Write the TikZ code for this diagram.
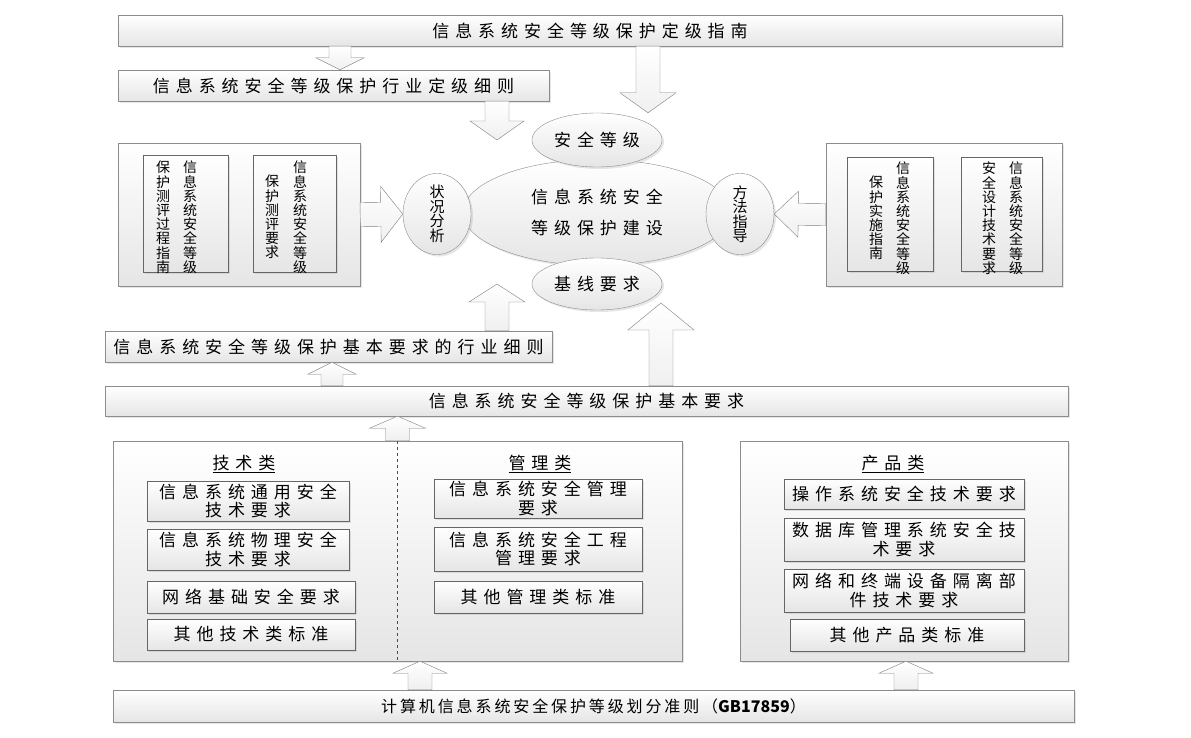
\documentclass[tikz,border=0pt]{standalone}
\usepackage{fontspec}
\setmainfont{Noto Sans CJK SC}[LetterSpace=35]
\newfontfamily\vfont{Noto Sans CJK SC}
\newfontfamily\bfont{Noto Sans CJK SC}[LetterSpace=18]
\usetikzlibrary{calc,shapes.geometric,shadows}
\XeTeXlinebreaklocale "zh"
\XeTeXlinebreakskip=8pt plus 0pt

% block arrow: from, tip, shaft half width, head half width, head length
\newcommand{\fatarrow}[5]{%
  \coordinate (fa-base) at ($(#2)!#5!(#1)$);
  \path[arrowbody] ($(#1)!#3!90:(#2)$) -- ($(fa-base)!#3!-90:(#1)$)
    -- ($(fa-base)!#4!-90:(#1)$) -- (#2) -- ($(fa-base)!#4!90:(#1)$)
    -- ($(fa-base)!#3!90:(#1)$) -- ($(#1)!#3!-90:(#2)$) -- cycle;
}

\begin{document}
\begin{tikzpicture}[x=1pt,y=-1pt,
  box/.style={draw=black!45, top color=white, bottom color=black!10,
    drop shadow={shadow xshift=2pt,shadow yshift=-2pt,opacity=.2},
    inner sep=0pt, align=center, font=\fontsize{17}{18.5}\selectfont},
  item/.style={box, draw=black!60},
  oval/.style={box, ellipse},
  vcol/.style={anchor=north, text width=16pt, align=center, inner sep=0pt,
    font=\vfont\fontsize{14}{14.2}\selectfont},
  head/.style={font=\fontsize{17}{18.5}\selectfont},
  arrowbody/.style={draw=black!50, top color=white, bottom color=black!6},
]
\useasboundingbox (0,0) rectangle (1191,738);

% top: grading guides
\node[box, minimum width=944, minimum height=31] (guide) at (590,30.5) {信息系统安全等级保护定级指南};
\node[box, minimum width=431, minimum height=31] (sector) at (333.5,85.5) {信息系统安全等级保护行业定级细则};

% left: assessment
\node[box, minimum width=242, minimum height=143] (assess) at (239,214.5) {};
\node[item, minimum width=85, minimum height=117] (assessA) at (185.5,213.5) {};
\node[item, minimum width=83, minimum height=117] (assessB) at (294.5,213.5) {};
\node[vcol] (assessA1) at (190,161) {信息系统安全等级};
\node[vcol] (assessA2) at (163,161) {保护测评过程指南};
\node[vcol] (assessB1) at (300,161) {信息系统安全等级};
\node[vcol] (assessB2) at (272,175) {保护测评要求};

% right: implementation
\node[box, minimum width=236, minimum height=143] (implement) at (944,214.5) {};
\node[item, minimum width=86, minimum height=114] (implementA) at (890,214) {};
\node[item, minimum width=81, minimum height=114] (implementB) at (1001.5,214) {};
\node[vcol] (implementA1) at (903,162) {信息系统安全等级};
\node[vcol] (implementA2) at (876,176) {保护实施指南};
\node[vcol] (implementB1) at (1016,162) {信息系统安全等级};
\node[vcol] (implementB2) at (989,162) {安全设计技术要求};

% centre
\node[oval, minimum width=268, minimum height=106, font=\fontsize{17}{31}\selectfont] (core) at (597,212.5) {信息系统安全\\等级保护建设};
\node[oval, minimum width=130, minimum height=54] (safety) at (597,140) {安全等级};
\node[oval, minimum width=130, minimum height=52] (baseline) at (597,284) {基线要求};
\node[oval, minimum width=68, minimum height=76, text width=16pt, font=\vfont\fontsize{15}{14.5}\selectfont] (status) at (437,214) {状况分析};
\node[oval, minimum width=68, minimum height=76, text width=16pt, font=\vfont\fontsize{15}{14.5}\selectfont] (method) at (740,214) {方法指导};

% basic requirements
\node[box, minimum width=447, minimum height=31] (sectorbasic) at (328.5,346.5) {信息系统安全等级保护基本要求的行业细则};
\node[box, minimum width=963, minimum height=30] (basic) at (586.5,401) {信息系统安全等级保护基本要求};

% technical / management group
\node[box, minimum width=569, minimum height=220] (group) at (397.5,551) {};
\draw[dashed, black!70] (group.north) -- (group.south);
\node[head] (techhead) at (244,464) {\underline{技术类}};
\node[head] (mgmthead) at (540,464) {\underline{管理类}};
\node[item, minimum width=202, minimum height=40] (tech1) at (248,501) {信息系统通用安全\\技术要求};
\node[item, minimum width=202, minimum height=41] (tech2) at (248,549.5) {信息系统物理安全\\技术要求};
\node[item, minimum width=208, minimum height=32] (tech3) at (251,597) {网络基础安全要求};
\node[item, minimum width=208, minimum height=31] (tech4) at (251,634.5) {其他技术类标准};
\node[item, minimum width=208, minimum height=39] (mgmt1) at (538,498.5) {信息系统安全管理\\要求};
\node[item, minimum width=208, minimum height=44] (mgmt2) at (538,549) {信息系统安全工程\\管理要求};
\node[item, minimum width=208, minimum height=32] (mgmt3) at (538,597) {其他管理类标准};

% product group
\node[box, minimum width=328, minimum height=220] (product) at (904,551) {};
\node[head] (prodhead) at (893,464) {\underline{产品类}};
\node[item, minimum width=240, minimum height=30] (prod1) at (904,494) {操作系统安全技术要求};
\node[item, minimum width=240, minimum height=43] (prod2) at (904,539.5) {数据库管理系统安全技\\术要求};
\node[item, minimum width=240, minimum height=43] (prod3) at (904,590.5) {网络和终端设备隔离部\\件技术要求};
\node[item, minimum width=234, minimum height=32] (prod4) at (907,635) {其他产品类标准};

% bottom
\node[box, minimum width=961, minimum height=32, font=\bfont\fontsize{16}{18.5}\selectfont] (criteria) at (593.5,706) {计算机信息系统安全保护等级划分准则（{\vfont\bfseries GB17859}）};

% block arrows
\coordinate (a1s) at (340,0 |- guide.south);
\coordinate (a1e) at (340,0 |- sector.north);
\fatarrow{a1s}{a1e}{11pt}{24pt}{12pt}
\coordinate (a2s) at (648,0 |- guide.south);
\coordinate (a2e) at (648,0 |- safety.north);
\fatarrow{a2s}{a2e}{12pt}{28pt}{20pt}
\coordinate (a3s) at (497,0 |- sector.south);
\coordinate (a3e) at (497,0 |- safety.center);
\fatarrow{a3s}{a3e}{12pt}{27pt}{19pt}
\fatarrow{assess.east}{status.west}{12pt}{28pt}{22pt}
\fatarrow{implement.west}{method.east}{11pt}{23pt}{24pt}
\coordinate (a6s) at (332,0 |- basic.north);
\coordinate (a6e) at (332,0 |- sectorbasic.south);
\fatarrow{a6s}{a6e}{11pt}{24pt}{12pt}
\coordinate (a7s) at (497,0 |- sectorbasic.north);
\coordinate (a7e) at (497,0 |- baseline.center);
\fatarrow{a7s}{a7e}{12pt}{28pt}{18pt}
\coordinate (a8s) at (661,0 |- basic.north);
\coordinate (a8e) at (661,303);
\fatarrow{a8s}{a8e}{12pt}{33pt}{27pt}
\coordinate (a9s) at (group.north);
\coordinate (a9e) at (group.north |- basic.south);
\fatarrow{a9s}{a9e}{12pt}{28pt}{12pt}
\coordinate (a10s) at (420,0 |- criteria.north);
\coordinate (a10e) at (420,0 |- group.south);
\fatarrow{a10s}{a10e}{12pt}{27pt}{12pt}
\coordinate (a11s) at (906,0 |- criteria.north);
\coordinate (a11e) at (906,0 |- product.south);
\fatarrow{a11s}{a11e}{12pt}{27pt}{12pt}

\end{tikzpicture}
\end{document}
